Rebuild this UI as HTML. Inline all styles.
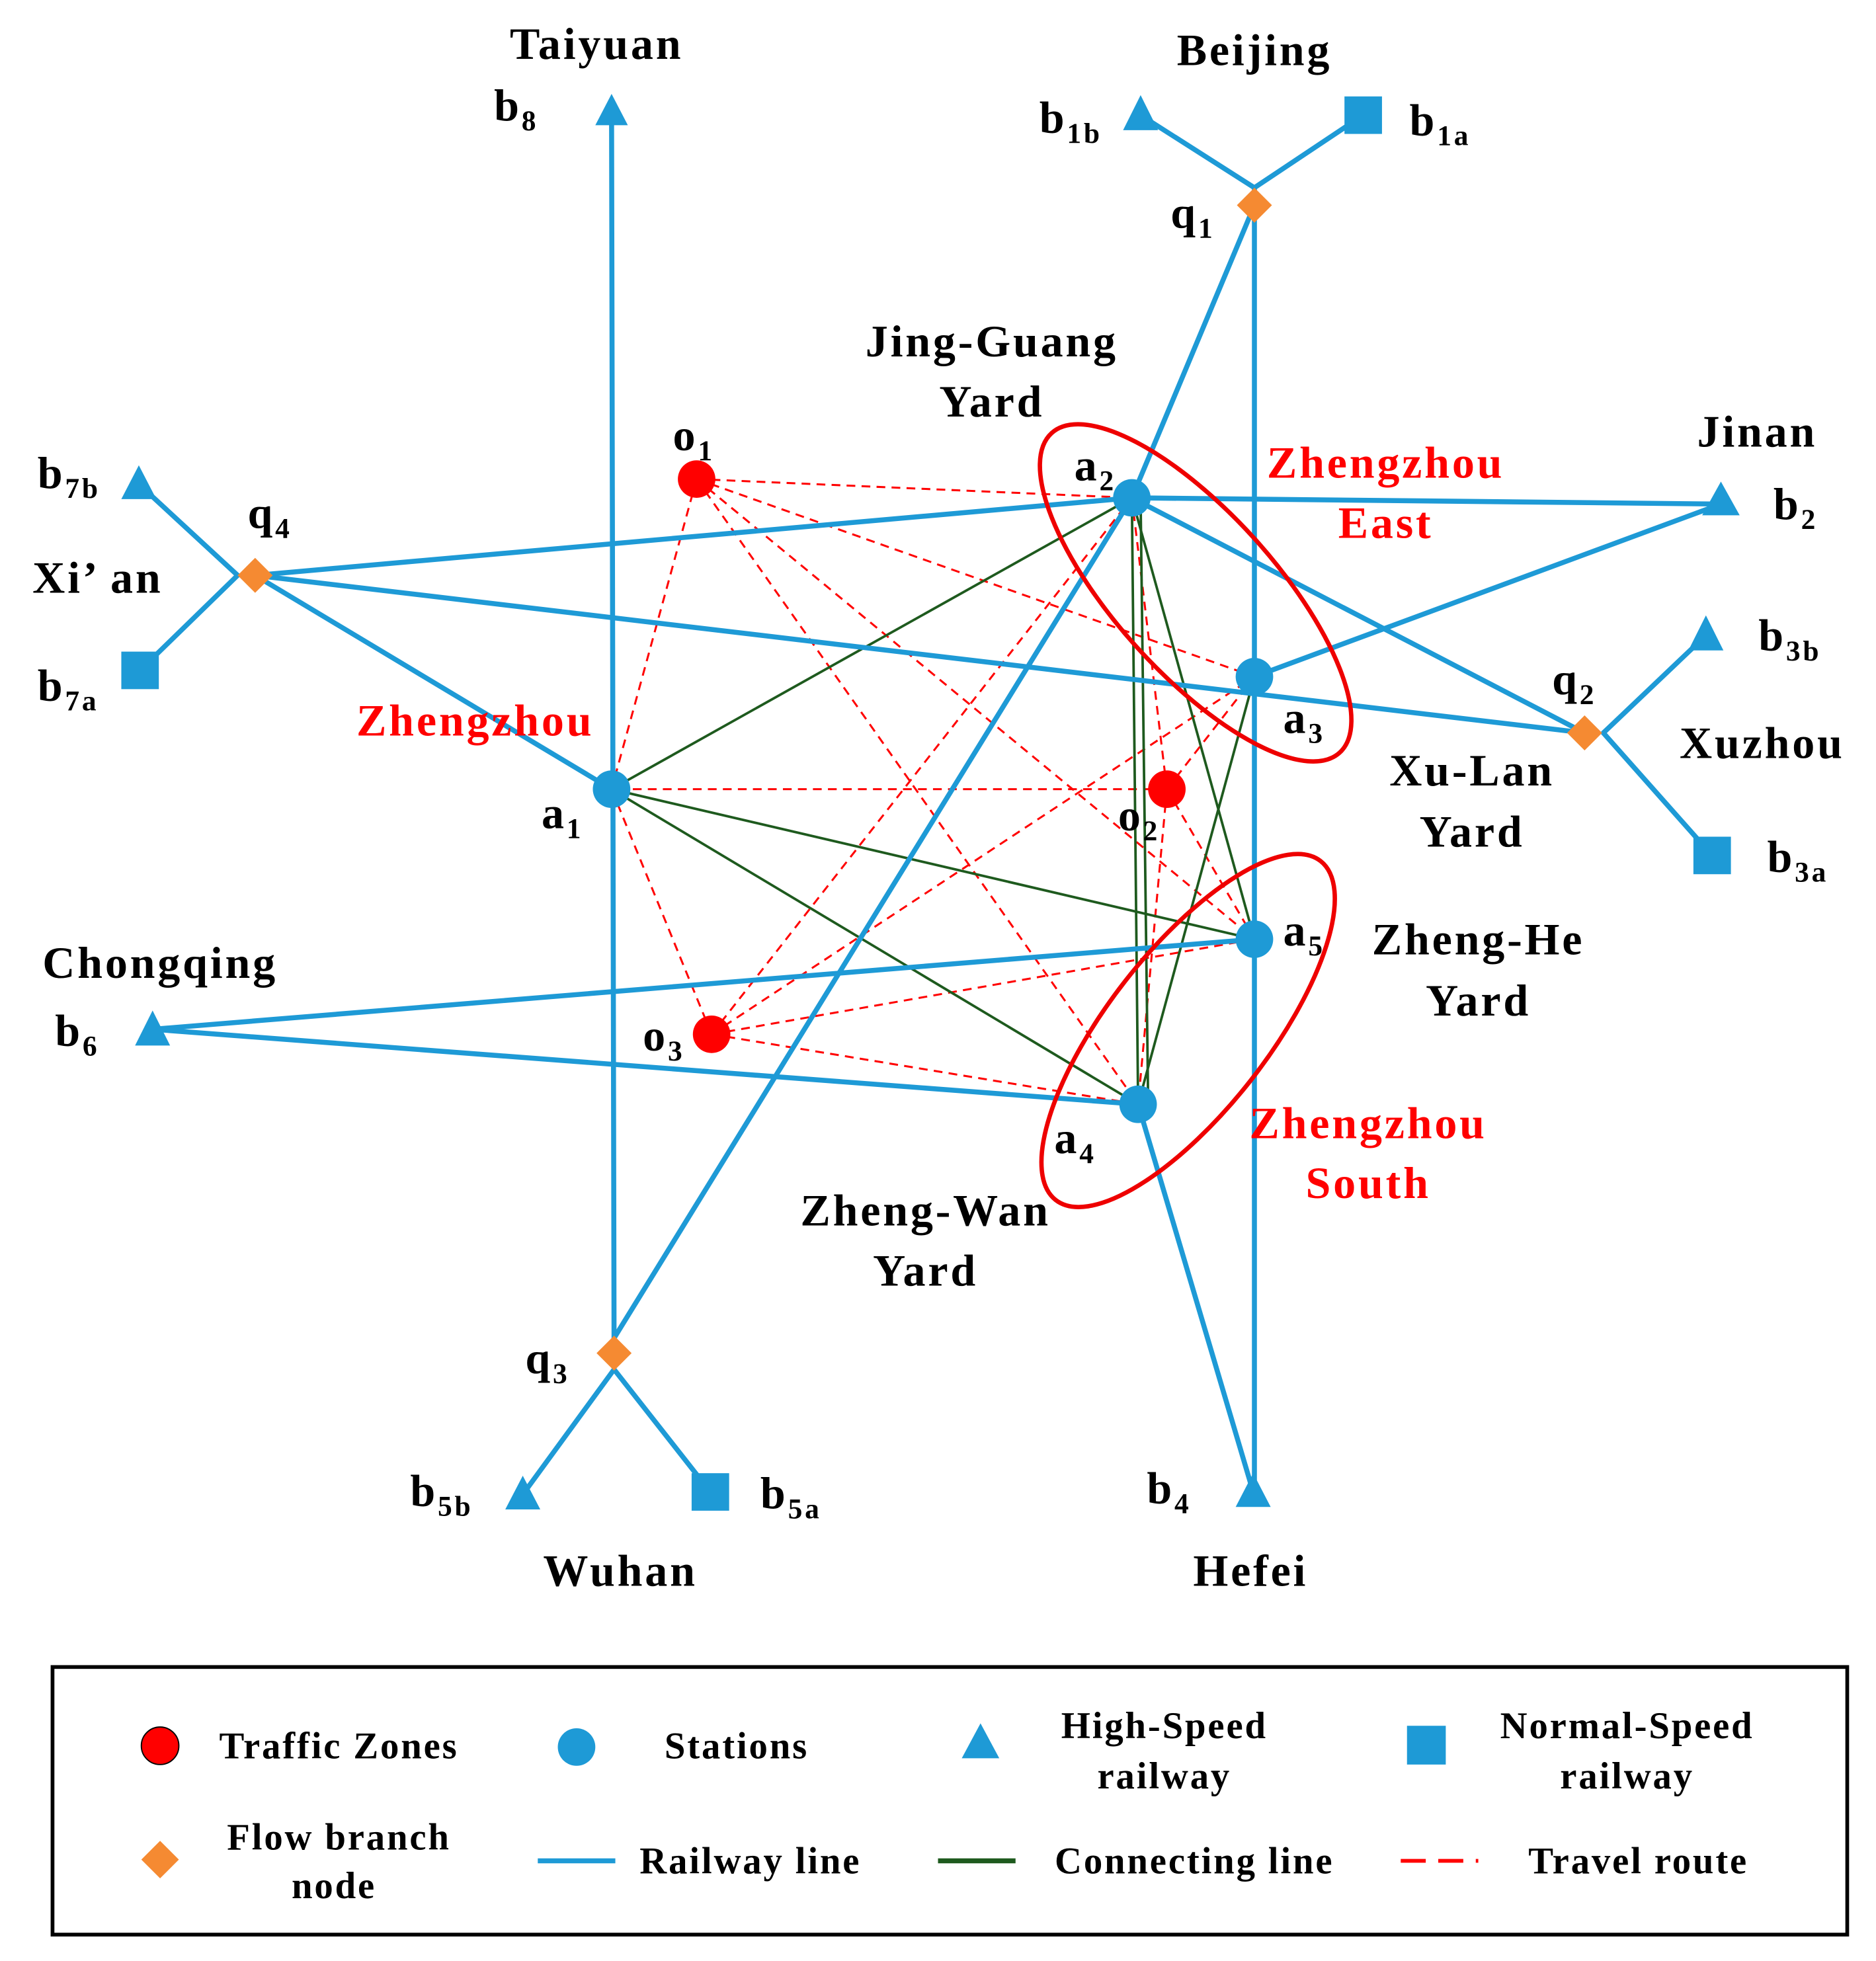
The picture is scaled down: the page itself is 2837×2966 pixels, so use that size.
<!DOCTYPE html>
<html><head><meta charset="utf-8"><style>
html,body{margin:0;padding:0;background:#fff;}
svg{display:block;}
text{font-family:"Liberation Serif",serif;font-weight:bold;}
</style></head><body>
<svg width="2837" height="2966" viewBox="0 0 1500 1568" xmlns="http://www.w3.org/2000/svg">
<rect width="1500" height="1568" fill="#fff"/>
<g stroke="#f00" stroke-width="1.6" stroke-dasharray="7,5" fill="none">
<line x1="557" y1="383" x2="905" y2="398"/><line x1="557" y1="383" x2="1003" y2="541"/>
<line x1="557" y1="383" x2="1003" y2="751"/><line x1="557" y1="383" x2="910" y2="883"/>
<line x1="557" y1="383" x2="489" y2="631"/>
<line x1="933" y1="631" x2="489" y2="631"/><line x1="933" y1="631" x2="905" y2="398"/>
<line x1="933" y1="631" x2="1003" y2="541"/><line x1="933" y1="631" x2="910" y2="883"/>
<line x1="933" y1="631" x2="1003" y2="751"/>
<line x1="569" y1="827" x2="489" y2="631"/><line x1="569" y1="827" x2="905" y2="398"/>
<line x1="569" y1="827" x2="1003" y2="541"/><line x1="569" y1="827" x2="1003" y2="751"/>
<line x1="569" y1="827" x2="910" y2="883"/>
</g>
<g stroke="#1e5a1e" stroke-width="2" fill="none">
<line x1="489" y1="631" x2="905" y2="398"/><line x1="489" y1="631" x2="1003" y2="751"/>
<line x1="489" y1="631" x2="910" y2="883"/><line x1="905" y1="398" x2="910" y2="883"/>
<line x1="905" y1="398" x2="1003" y2="751"/><line x1="1003" y1="541" x2="910" y2="883"/>
<line x1="1003" y1="541" x2="1003" y2="751"/><line x1="912" y1="400" x2="918" y2="880"/>
</g>
<g stroke="#1e9ad6" stroke-width="4" fill="none" stroke-linecap="round">
<line x1="489" y1="95" x2="491" y2="1082"/>
<line x1="1003" y1="150" x2="912" y2="92"/><line x1="1003" y1="150" x2="1090" y2="92"/>
<line x1="1003" y1="150" x2="1003" y2="1193"/>
<line x1="1003" y1="164" x2="905" y2="398"/><line x1="905" y1="398" x2="491" y2="1070"/>
<line x1="905" y1="398" x2="1376" y2="403"/><line x1="905" y1="398" x2="1267" y2="586"/>
<line x1="204" y1="460" x2="905" y2="398"/><line x1="204" y1="460" x2="1267" y2="586"/>
<line x1="1003" y1="541" x2="1376" y2="403"/>
<line x1="204" y1="460" x2="489" y2="631"/>
<line x1="190" y1="460" x2="111" y2="387"/><line x1="190" y1="460" x2="112" y2="536"/>
<line x1="1282" y1="586" x2="1364" y2="508"/><line x1="1282" y1="586" x2="1369" y2="684"/>
<line x1="122" y1="823" x2="1003" y2="751"/><line x1="122" y1="823" x2="910" y2="883"/>
<line x1="910" y1="883" x2="1002" y2="1193"/>
<line x1="491" y1="1095" x2="418" y2="1195"/><line x1="491" y1="1095" x2="568" y2="1193"/>
</g>
<g stroke="#e00" stroke-width="3.5" fill="none">
<ellipse cx="956" cy="474" rx="172" ry="64" transform="rotate(48 956 474)"/>
<ellipse cx="950" cy="824" rx="172" ry="64" transform="rotate(-52 950 824)"/>
</g>
<g fill="#1e9ad6">
<circle cx="489" cy="631" r="15"/><circle cx="905" cy="398" r="15"/><circle cx="1003" cy="541" r="15"/>
<circle cx="910" cy="883" r="15"/><circle cx="1003" cy="751" r="15"/>
<polygon points="489,75 476,100 502,100"/><polygon points="912,76 898,104 926,104"/>
<rect x="1075" y="77" width="30" height="30"/>
<polygon points="1376,385 1361,412 1391,412"/><polygon points="1364,492 1350,520 1378,520"/>
<rect x="1354" y="669" width="30" height="30"/>
<polygon points="111,372 97,399 125,399"/><rect x="97" y="521" width="30" height="30"/>
<polygon points="122,808 108,836 136,836"/>
<polygon points="418,1180 404,1207 432,1207"/><rect x="553" y="1178" width="30" height="30"/>
<polygon points="1002,1178 988,1205 1016,1205"/>
</g>
<g fill="#f00"><circle cx="557" cy="383" r="15"/><circle cx="933" cy="631" r="15"/><circle cx="569" cy="827" r="15"/></g>
<g fill="#f58a32">
<polygon points="1003,150 1017,164 1003,178 989,164"/><polygon points="1267,572 1281,586 1267,600 1253,586"/>
<polygon points="491,1068 505,1082 491,1096 477,1082"/><polygon points="204,446 218,460 204,474 190,460"/>
</g>
<g font-size="36" fill="#000" letter-spacing="2">
<text x="477" y="47" text-anchor="middle">Taiyuan</text>
<text x="395" y="96">b<tspan font-size="23" dy="8">8</tspan></text>
<text x="1003" y="52" text-anchor="middle">Beijing</text>
<text x="831" y="106">b<tspan font-size="23" dy="8">1b</tspan></text>
<text x="1127" y="108">b<tspan font-size="23" dy="8">1a</tspan></text>
<text x="936" y="182">q<tspan font-size="23" dy="8">1</tspan></text>
<text x="793" y="285" text-anchor="middle">Jing-Guang</text>
<text x="793" y="333" text-anchor="middle">Yard</text>
<text x="538" y="360">o<tspan font-size="23" dy="8">1</tspan></text>
<text x="859" y="384">a<tspan font-size="23" dy="8">2</tspan></text>
<text x="1405" y="357" text-anchor="middle">Jinan</text>
<text x="1418" y="415">b<tspan font-size="23" dy="8">2</tspan></text>
<text x="1406" y="520">b<tspan font-size="23" dy="8">3b</tspan></text>
<text x="1241" y="555">q<tspan font-size="23" dy="8">2</tspan></text>
<text x="1409" y="606" text-anchor="middle">Xuzhou</text>
<text x="1177" y="628" text-anchor="middle">Xu-Lan</text>
<text x="1177" y="677" text-anchor="middle">Yard</text>
<text x="1413" y="697">b<tspan font-size="23" dy="8">3a</tspan></text>
<text x="1026" y="586">a<tspan font-size="23" dy="8">3</tspan></text>
<text x="30" y="390">b<tspan font-size="23" dy="8">7b</tspan></text>
<text x="198" y="422">q<tspan font-size="23" dy="8">4</tspan></text>
<text x="26" y="474">Xi’ an</text>
<text x="30" y="560">b<tspan font-size="23" dy="8">7a</tspan></text>
<text x="433" y="662">a<tspan font-size="23" dy="8">1</tspan></text>
<text x="894" y="664">o<tspan font-size="23" dy="8">2</tspan></text>
<text x="1026" y="756">a<tspan font-size="23" dy="8">5</tspan></text>
<text x="1182" y="763" text-anchor="middle">Zheng-He</text>
<text x="1182" y="812" text-anchor="middle">Yard</text>
<text x="128" y="782" text-anchor="middle">Chongqing</text>
<text x="44" y="836">b<tspan font-size="23" dy="8">6</tspan></text>
<text x="514" y="840">o<tspan font-size="23" dy="8">3</tspan></text>
<text x="843" y="922">a<tspan font-size="23" dy="8">4</tspan></text>
<text x="740" y="980" text-anchor="middle">Zheng-Wan</text>
<text x="740" y="1028" text-anchor="middle">Yard</text>
<text x="420" y="1098">q<tspan font-size="23" dy="8">3</tspan></text>
<text x="328" y="1204">b<tspan font-size="23" dy="8">5b</tspan></text>
<text x="608" y="1206">b<tspan font-size="23" dy="8">5a</tspan></text>
<text x="917" y="1202">b<tspan font-size="23" dy="8">4</tspan></text>
<text x="496" y="1268" text-anchor="middle">Wuhan</text>
<text x="1000" y="1268" text-anchor="middle">Hefei</text>
</g>
<g font-size="36" fill="#f00" text-anchor="middle" letter-spacing="2">
<text x="1108" y="382">Zhengzhou</text><text x="1108" y="430">East</text>
<text x="380" y="588">Zhengzhou</text>
<text x="1094" y="910">Zhengzhou</text><text x="1094" y="958">South</text>
</g>
<rect x="42" y="1333" width="1435" height="214" fill="none" stroke="#000" stroke-width="3"/>
<circle cx="128" cy="1396" r="15" fill="#f00" stroke="#000" stroke-width="1"/>
<circle cx="461" cy="1397" r="15" fill="#1e9ad6"/>
<polygon points="784,1378 769,1406 799,1406" fill="#1e9ad6"/>
<rect x="1125" y="1380" width="31" height="31" fill="#1e9ad6"/>
<polygon points="128,1472 143,1487 128,1502 113,1487" fill="#f58a32"/>
<line x1="430" y1="1488" x2="492" y2="1488" stroke="#1e9ad6" stroke-width="4"/>
<line x1="750" y1="1488" x2="812" y2="1488" stroke="#1e5a1e" stroke-width="4"/>
<line x1="1120" y1="1488" x2="1182" y2="1488" stroke="#f00" stroke-width="3" stroke-dasharray="20,10"/>
<g font-size="30" fill="#000" text-anchor="middle" letter-spacing="1.5">
<text x="271" y="1406">Traffic Zones</text>
<text x="589" y="1406">Stations</text>
<text x="931" y="1390">High-Speed</text><text x="931" y="1430">railway</text>
<text x="1301" y="1390">Normal-Speed</text><text x="1301" y="1430">railway</text>
<text x="271" y="1479">Flow branch</text><text x="267" y="1518">node</text>
<text x="600" y="1498">Railway line</text>
<text x="955" y="1498">Connecting line</text>
<text x="1310" y="1498">Travel route</text>
</g>
</svg>
</body></html>
